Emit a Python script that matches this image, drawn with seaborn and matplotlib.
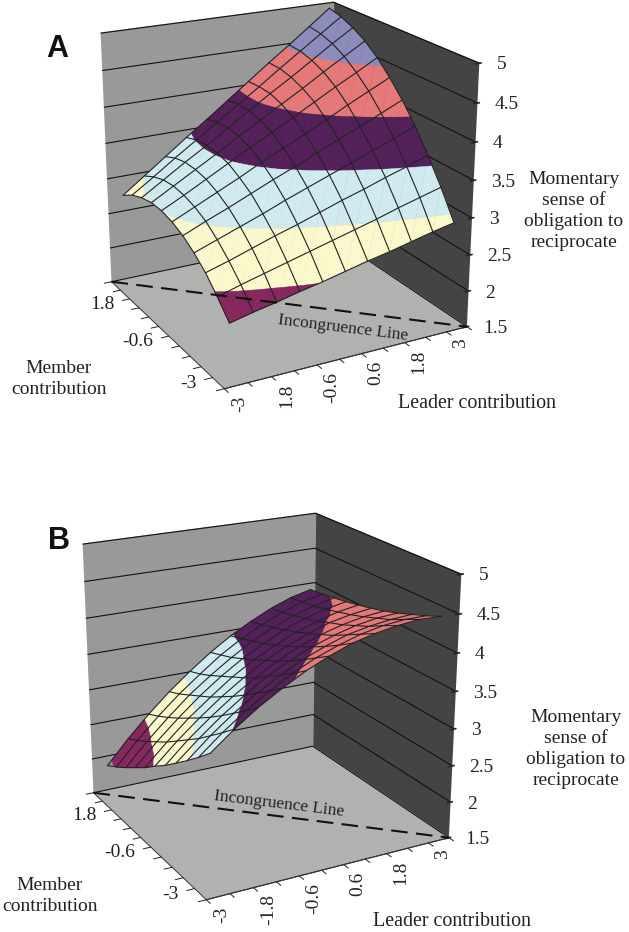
import matplotlib
matplotlib.use("Agg")
import matplotlib.pyplot as plt
import seaborn as sns
from mpl_toolkits.mplot3d.art3d import Poly3DCollection

sns.set_theme(style="white")
plt.rcParams["font.family"] = ["Liberation Serif", "DejaVu Serif"]
plt.rcParams["font.size"] = 14

W, H = 629, 932

leader = [-3, -2.4, -1.8, -1.2, -0.6, 0, 0.6, 1.2, 1.8, 2.4, 3]
member = [-3, -2.4, -1.8, -1.2, -0.6, 0, 0.6, 1.2, 1.8, 2.4, 3]
z_ticks = [1.5, 2, 2.5, 3, 3.5, 4, 4.5, 5]
z_tick_labels = ["1.5", "2", "2.5", "3", "3.5", "4", "4.5", "5"]
leader_ticks = [-3, -1.8, -0.6, 0.6, 1.8, 3]
member_ticks = [-3, -0.6, 1.8]
leader_labels_a = ["-3", "1.8", "-0.6", "0.6", "1.8", "3"]
leader_labels_b = ["-3", "-1.8", "-0.6", "0.6", "1.8", "3"]
member_labels = ["-3", "-0.6", "1.8"]

# rows = member, columns = leader
surface_a = [
    [2.25, 2.32, 2.38, 2.45, 2.51, 2.58, 2.65, 2.71, 2.78, 2.85, 2.91],
    [2.46, 2.55, 2.63, 2.71, 2.79, 2.87, 2.95, 3.03, 3.12, 3.20, 3.28],
    [2.65, 2.74, 2.84, 2.94, 3.03, 3.13, 3.23, 3.32, 3.42, 3.51, 3.61],
    [2.79, 2.90, 3.01, 3.12, 3.24, 3.35, 3.46, 3.57, 3.68, 3.79, 3.91],
    [2.90, 3.03, 3.15, 3.28, 3.41, 3.53, 3.66, 3.79, 3.91, 4.04, 4.17],
    [2.97, 3.11, 3.25, 3.39, 3.54, 3.68, 3.82, 3.96, 4.11, 4.25, 4.39],
    [3.01, 3.16, 3.32, 3.48, 3.64, 3.79, 3.95, 4.11, 4.27, 4.42, 4.58],
    [3.01, 3.18, 3.35, 3.52, 3.70, 3.87, 4.04, 4.21, 4.39, 4.56, 4.73],
    [2.97, 3.16, 3.35, 3.53, 3.72, 3.91, 4.10, 4.28, 4.47, 4.66, 4.84],
    [2.90, 3.10, 3.31, 3.51, 3.71, 3.91, 4.11, 4.32, 4.52, 4.72, 4.92],
    [2.79, 3.01, 3.23, 3.45, 3.66, 3.88, 4.10, 4.32, 4.53, 4.75, 4.97],
]
surface_b = [
    [3.28, 3.52, 3.73, 3.91, 4.07, 4.20, 4.31, 4.38, 4.43, 4.46, 4.45],
    [3.11, 3.36, 3.58, 3.77, 3.94, 4.08, 4.19, 4.28, 4.34, 4.37, 4.37],
    [2.95, 3.21, 3.44, 3.64, 3.81, 3.96, 4.08, 4.18, 4.24, 4.28, 4.30],
    [2.80, 3.06, 3.30, 3.51, 3.70, 3.85, 3.98, 4.08, 4.16, 4.21, 4.23],
    [2.65, 2.93, 3.17, 3.39, 3.58, 3.75, 3.89, 4.00, 4.08, 4.14, 4.17],
    [2.52, 2.80, 3.05, 3.28, 3.48, 3.66, 3.80, 3.92, 4.02, 4.08, 4.12],
    [2.38, 2.67, 2.94, 3.17, 3.39, 3.57, 3.72, 3.85, 3.95, 4.03, 4.08],
    [2.26, 2.56, 2.83, 3.08, 3.30, 3.49, 3.65, 3.79, 3.90, 3.98, 4.04],
    [2.14, 2.45, 2.73, 2.99, 3.21, 3.41, 3.59, 3.73, 3.85, 3.94, 4.01],
    [2.03, 2.35, 2.64, 2.90, 3.13, 3.35, 3.53, 3.68, 3.81, 3.91, 3.98],
    [1.93, 2.26, 2.56, 2.83, 3.07, 3.29, 3.48, 3.64, 3.78, 3.89, 3.96],
]

band_edges = [1.5, 2, 2.5, 3, 3.5, 4, 4.5, 5]
band_colors = sns.color_palette(
    ["#8c8cbc", "#86285f", "#fbf8cc", "#cfebef", "#54205a", "#e57878", "#8c8cbc"]
)


def clip(poly, level, keep_above):
    out = []
    for p, q in zip(poly, poly[1:] + poly[:1]):
        p_in = p[2] >= level if keep_above else p[2] <= level
        q_in = q[2] >= level if keep_above else q[2] <= level
        if p_in:
            out.append(p)
        if p_in != q_in:
            t = (level - p[2]) / (q[2] - p[2])
            out.append(tuple(p[i] + t * (q[i] - p[i]) for i in range(3)))
    return out


def band_polygons(z):
    polys, colors = [], []
    for r in range(len(member) - 1):
        for c in range(len(leader) - 1):
            a = (leader[c], member[r], z[r][c])
            b = (leader[c + 1], member[r], z[r][c + 1])
            d = (leader[c + 1], member[r + 1], z[r + 1][c + 1])
            e = (leader[c], member[r + 1], z[r + 1][c])
            for tri in ([a, b, d], [a, d, e]):
                for k, color in enumerate(band_colors):
                    part = clip(tri, band_edges[k], True)
                    if part:
                        part = clip(part, band_edges[k + 1], False)
                    if len(part) >= 3:
                        polys.append(part)
                        colors.append(color)
    return polys, colors


def draw_panel(fig, center, z, leader_labels):
    size = 620
    rect = [(center[0] - size / 2) / W, 1 - (center[1] + size / 2) / H, size / W, size / H]
    ax = fig.add_axes(rect, projection="3d", computed_zorder=False)
    ax.patch.set_alpha(0)
    ax.view_init(elev=20.5, azim=-118.5)
    ax.set_proj_type("persp", focal_length=0.45)

    polys, colors = band_polygons(z)
    ax.add_collection3d(
        Poly3DCollection(polys, facecolors=colors, edgecolors=colors, linewidths=0.3, zorder=2)
    )

    # mesh
    for r in range(len(member)):
        ax.plot(leader, [member[r]] * len(leader), z[r], color="#222222", lw=0.8, zorder=3)
    for c in range(len(leader)):
        ax.plot([leader[c]] * len(member), member, [row[c] for row in z], color="#222222", lw=0.8, zorder=3)

    # incongruence line on the floor
    ax.plot([-3.3, 3.3], [3.3, -3.3], [1.5, 1.5], color="#111111", lw=1.5, dashes=(8, 4), zorder=4)

    # tick marks sit between the categories
    for v in leader:
        ax.plot([v - 0.3, v - 0.3], [-3.3, -3.5], [1.5, 1.5], color="#222222", lw=0.7, zorder=1)
        ax.plot([-3.3, -3.5], [v - 0.3, v - 0.3], [1.5, 1.5], color="#222222", lw=0.7, zorder=1)
    ax.plot([3.3, 3.3], [-3.3, -3.5], [1.5, 1.5], color="#222222", lw=0.7, zorder=1)
    ax.plot([-3.3, -3.5], [3.3, 3.3], [1.5, 1.5], color="#222222", lw=0.7, zorder=1)

    ax.set_xlim(-3.3, 3.3)
    ax.set_ylim(-3.3, 3.3)
    ax.set_zlim(1.5, 5)
    ax.set_box_aspect((1, 1, 1.01), zoom=0.735)

    ax.set_xticks(leader_ticks, leader_labels)
    ax.set_yticks([])
    ax.set_zticks(z_ticks, z_tick_labels)
    ax.tick_params(axis="x", labelrotation=90, labelsize=14, pad=-2)
    ax.tick_params(axis="z", labelsize=14, pad=2)
    for t in ax.get_zticklabels():
        t.set_va("center")
        t.set_ha("left")

    # member labels sit left of the floor edge
    for v, s in zip(member_ticks, member_labels):
        ax.text(-3.75, v + 0.2, 1.5, s, ha="right", va="center", fontsize=14, color="#222222", zorder=5)

    ax.xaxis.set_pane_color("#444444")
    ax.yaxis.set_pane_color("#999999")
    ax.zaxis.set_pane_color("#b0b2b0")
    for axis in (ax.xaxis, ax.yaxis):
        axis._axinfo["grid"]["linewidth"] = 0
        axis._axinfo["tick"]["inward_factor"] = 0
        axis._axinfo["tick"]["outward_factor"] = 0
    ax.zaxis._axinfo["grid"]["color"] = "#111111"
    ax.zaxis._axinfo["grid"]["linewidth"] = 0.8
    ax.zaxis._axinfo["juggled"] = (1, 0, 2)
    for axis in (ax.xaxis, ax.yaxis, ax.zaxis):
        axis.line.set_color("#333333")
        axis.line.set_linewidth(0.7)
        axis.label.set_visible(False)
        axis.offsetText.set_visible(False)
    ax.title.set_visible(False)
    ax._left_title.set_visible(False)
    ax._right_title.set_visible(False)
    ax.grid(True)
    return ax


def px_text(fig, x, y, s, **kw):
    fig.text(x / W, 1 - y / H, s, ha="center", va="center", color="#222222", **kw)


fig = plt.figure(figsize=(W / 100, H / 100), dpi=100, facecolor="white")

draw_panel(fig, (275, 188), surface_a, leader_labels_a)
draw_panel(fig, (257, 699), surface_b, leader_labels_b)

fig.text(57 / W, 1 - 49 / H, "A", family="Liberation Sans", fontweight="bold", fontsize=22, ha="center", va="center", color="#111111")
fig.text(59 / W, 1 - 541 / H, "B", family="Liberation Sans", fontweight="bold", fontsize=22, ha="center", va="center", color="#111111")

px_text(fig, 574, 211, "Momentary\nsense of\nobligation to\nreciprocate", fontsize=14, linespacing=1.3)
px_text(fig, 59, 379, "Member\ncontribution", fontsize=14, linespacing=1.35)
px_text(fig, 477, 404, "Leader contribution", fontsize=14.4)
px_text(fig, 343, 328, "Incongruence Line", fontsize=12.5, rotation=-7)

px_text(fig, 576, 749, "Momentary\nsense of\nobligation to\nreciprocate", fontsize=14, linespacing=1.3)
px_text(fig, 50, 896, "Member\ncontribution", fontsize=14, linespacing=1.35)
px_text(fig, 452, 922, "Leader contribution", fontsize=14.4)
px_text(fig, 279, 804, "Incongruence Line", fontsize=12.5, rotation=-7)

fig.savefig("out.png", dpi=100)
